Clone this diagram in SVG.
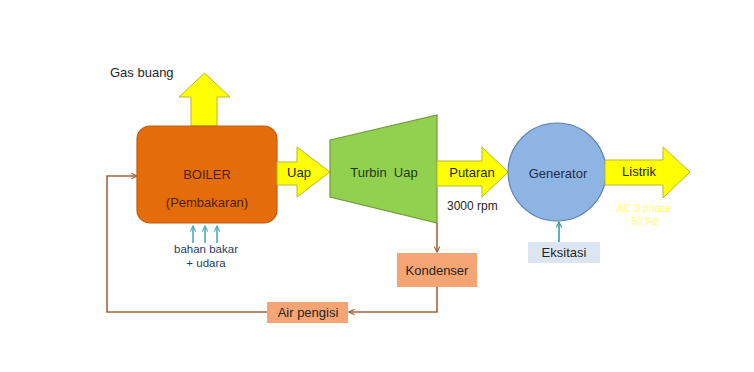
<svg xmlns="http://www.w3.org/2000/svg" width="754" height="372" viewBox="0 0 754 372">
<defs>
<style>
text{font-family:"Liberation Sans",Arial,sans-serif;font-size:13px;fill:#262626;text-anchor:middle}
.yarrow{fill:#FFFF00;stroke:#B8B830;stroke-width:1}
.pipe{fill:none;stroke:#A5633C;stroke-width:1.6}
.feed{fill:none;stroke:#4BACC6;stroke-width:1.6}
.exc{fill:none;stroke:#3E9AA0;stroke-width:1.6}
.box{fill:#F5A473;stroke:none}
.small{font-size:12px}
.fuel{font-size:11.5px;fill:#24405e}
</style>
<marker id="mBrown" viewBox="0 0 10 10" refX="9" refY="5" markerWidth="7" markerHeight="7" markerUnits="userSpaceOnUse" orient="auto">
<path d="M1,1 L9,5 L1,9" fill="none" stroke="#A5633C" stroke-width="1.6"/>
</marker>
<marker id="mBlue" viewBox="0 0 10 10" refX="9" refY="5" markerWidth="7" markerHeight="7" markerUnits="userSpaceOnUse" orient="auto">
<path d="M1,1 L9,5 L1,9" fill="none" stroke="#4BACC6" stroke-width="1.6"/>
</marker>
<marker id="mTeal" viewBox="0 0 10 10" refX="9" refY="5" markerWidth="7" markerHeight="7" markerUnits="userSpaceOnUse" orient="auto">
<path d="M1,1 L9,5 L1,9" fill="none" stroke="#3E9AA0" stroke-width="1.6"/>
</marker>
</defs>
<rect width="754" height="372" fill="#FFFFFF"/>

<g id="connectors">
<path class="pipe" d="M437,223 V252" marker-end="url(#mBrown)"/>
<path class="pipe" d="M437,287 V312 H349" marker-end="url(#mBrown)"/>
<path class="pipe" d="M267,312 H107 V176 H137" marker-end="url(#mBrown)"/>
<path class="feed" d="M193,243 V226" marker-end="url(#mBlue)"/>
<path class="feed" d="M205,243 V226" marker-end="url(#mBlue)"/>
<path class="feed" d="M217,243 V226" marker-end="url(#mBlue)"/>
<path class="exc" d="M559,242 V222" marker-end="url(#mTeal)"/>
</g>

<g id="gas-buang">
<polygon class="yarrow" points="191,126 191,97 179,97 204.5,73 230,97 217,97 217,126"/>
<text x="110" y="77" style="text-anchor:start">Gas buang</text>
</g>

<g id="boiler">
<rect x="137" y="126" width="140" height="97" rx="13" ry="13" fill="#E46C0A" stroke="#C45C0A" stroke-width="1.2"/>
<text x="207" y="179" style="fill:#4a2208">BOILER</text>
<text x="207" y="207" style="fill:#4a2208">(Pembakaran)</text>
</g>

<g id="fuel-label">
<text class="fuel" x="206" y="253">bahan bakar</text>
<text class="fuel" x="206" y="267">+ udara</text>
</g>

<g id="uap">
<polygon class="yarrow" points="277,162 297,162 297,147 330,172 297,197 297,185 277,185"/>
<text x="299" y="177">Uap</text>
</g>

<g id="turbin">
<polygon points="330,140 437,115 437,223 330,197" fill="#92D050" stroke="#6E9A3A" stroke-width="1.2"/>
<text x="384" y="177" style="fill:#1e3a10;white-space:pre">Turbin  Uap</text>
</g>

<g id="putaran">
<polygon class="yarrow" points="437,161 482,161 482,147 508,172 482,197 482,186 437,186"/>
<text x="472" y="177">Putaran</text>
<text class="small" x="447" y="210" style="text-anchor:start">3000 rpm</text>
</g>

<g id="generator">
<circle cx="557" cy="172" r="49" fill="#8EB4E3" stroke="#5B7FA8" stroke-width="1.2"/>
<text x="558" y="178" style="fill:#1c2e45">Generator</text>
</g>

<g id="listrik">
<polygon class="yarrow" points="605,160 663,160 663,147 690,172 663,198 663,185 605,185"/>
<text x="639" y="176">Listrik</text>
<text x="644" y="212" style="font-size:10.5px;fill:#FFFF66">AC 3 phase</text>
<text x="645" y="225" style="font-size:10.5px;fill:#FFFF66">50 Hz</text>
</g>

<g id="kondenser">
<rect class="box" x="397" y="253" width="80" height="34"/>
<text x="437" y="275">Kondenser</text>
</g>

<g id="air-pengisi">
<rect class="box" x="267" y="302" width="81" height="21"/>
<text x="308" y="317">Air pengisi</text>
</g>

<g id="eksitasi">
<rect x="528" y="242" width="72" height="21" fill="#DCE6F2"/>
<text x="564" y="257">Eksitasi</text>
</g>
</svg>
